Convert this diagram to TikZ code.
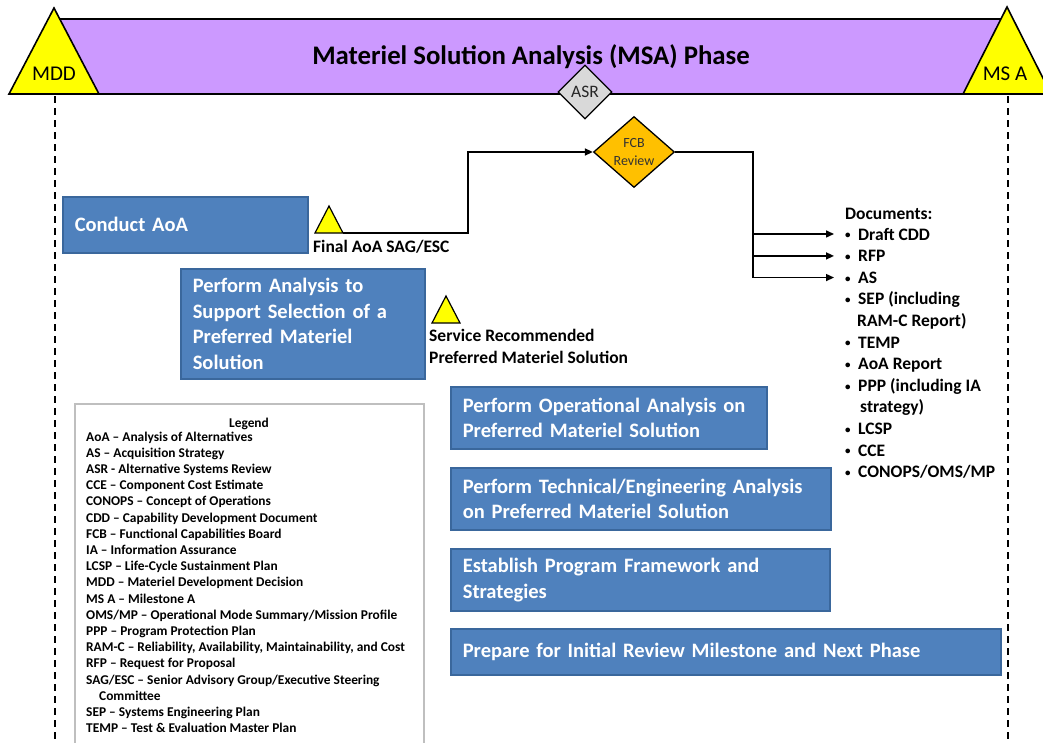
\documentclass[tikz,border=0pt]{standalone}
\usepackage{fontspec}
\setmainfont{Carlito}
\usetikzlibrary{shapes.geometric,arrows.meta}
\definecolor{banner}{HTML}{CC99FF}
\definecolor{msy}{HTML}{FFFF00}
\definecolor{boxblue}{HTML}{4F81BD}
\definecolor{boxedge}{HTML}{3A679C}
\definecolor{asrgray}{HTML}{D9D9D9}
\definecolor{fcbfill}{HTML}{FFC000}
\definecolor{legendedge}{HTML}{BFBFBF}
\newcommand{\docbullet}{\makebox[13pt][l]{\raisebox{1.2pt}{\fontsize{11}{11}\selectfont\textbullet}}}
\begin{document}
\begin{tikzpicture}[x=1pt,y=-1pt,
  thick line/.style={line width=1.6pt},
  conn/.style={line width=1.5pt,-{Triangle[length=8pt,width=7pt]}},
  phaseline/.style={line width=1.6pt,dash pattern=on 7pt off 5pt},
  milestone/.style={draw,fill=msy,line width=1.6pt,line join=miter},
  smallms/.style={draw,fill=msy,line width=1.2pt,line join=miter},
  task/.style={draw=boxedge,line width=1.6pt,fill=boxblue,anchor=north west,
    inner xsep=12pt,inner ysep=0pt,align=left,text=white,
    font=\fontsize{20.5}{25.5}\selectfont\bfseries},
  label/.style={anchor=base west,inner sep=0pt,font=\fontsize{17.5}{21.6}\selectfont\bfseries},
  doc/.style={anchor=base west,inner sep=0pt,font=\fontsize{17.5}{21.6}\selectfont\bfseries},
  legendtext/.style={anchor=base west,inner sep=0pt,font=\fontsize{13.4}{16}\selectfont\bfseries}
]
\useasboundingbox (0,0) rectangle (1043,742);

% banner
\draw[thick line,fill=banner] (54,19) rectangle (1007,94);
\node[font=\fontsize{26.8}{30}\selectfont\bfseries] (title) at (531,57) {Materiel Solution Analysis (MSA) Phase};

% milestones
\draw[milestone] (9,94) -- (54,8) -- (99,94) -- cycle;
\node[font=\fontsize{21}{22}\selectfont] (mdd) at (54,74) {MDD};
\draw[milestone] (963,94) -- (1007,7) -- (1051,94) -- cycle;
\node[font=\fontsize{21}{22}\selectfont] (msa) at (1005,74) {MS A};

\coordinate (mddtop) at (55,96);
\coordinate (mddbot) at (55,742);
\coordinate (msatop) at (1008,96);
\coordinate (msabot) at (1008,742);
\draw[phaseline] (mddtop) -- (mddbot);
\draw[phaseline] (msatop) -- (msabot);

% ASR and FCB
\node[diamond,draw,fill=asrgray,line width=1.3pt,minimum width=54pt,minimum height=54pt,
  inner sep=0pt,font=\fontsize{17.5}{20}\selectfont,text=black!85] (asr) at (585,92) {ASR};
\node[diamond,draw,fill=fcbfill,line width=1.3pt,minimum width=81pt,minimum height=71pt,
  inner sep=0pt,align=center,font=\fontsize{14}{18.5}\selectfont,text=black!80] (fcb) at (634,152) {FCB\\Review};

% tasks
\node[task,minimum width=245pt,minimum height=56pt,text width=221pt] (aoa) at (62,196) {Conduct AoA};
\node[task,minimum width=244pt,minimum height=110pt,text width=220pt] (pa) at (180,268)
  {Perform Analysis to\\Support Selection of a\\Preferred Materiel\\Solution};
\node[task,minimum width=316pt,minimum height=62pt,text width=292pt] (op) at (450,386)
  {Perform Operational Analysis on\\Preferred Materiel Solution};
\node[task,minimum width=380pt,minimum height=62pt,text width=356pt] (te) at (450,467)
  {Perform Technical/Engineering Analysis\\on Preferred Materiel Solution};
\node[task,minimum width=379pt,minimum height=62pt,text width=355pt] (es) at (450,548)
  {Establish Program Framework and\\Strategies};
\node[task,minimum width=550pt,minimum height=46pt,text width=526pt] (pr) at (450,628)
  {Prepare for Initial Review Milestone and Next Phase};

% small milestones
\draw[smallms] (315,233) -- (329,206) -- (343,233) -- cycle;
\coordinate (aoams) at (343,233);
\node[label] (aoalabel) at (313,252.7) {Final AoA SAG/ESC};
\draw[smallms] (432,323) -- (446,296) -- (460,323) -- cycle;
\node[label] (srlabel1) at (429,341.7) {Service Recommended};
\node[label] (srlabel2) at (429,363.3) {Preferred Materiel Solution};

% documents
\node[doc] (dochead) at (845,219) {Documents:};
\node[doc] (doc1) at (845,240) {\docbullet Draft CDD};
\node[doc] (doc2) at (845,261.6) {\docbullet RFP};
\node[doc] (doc3) at (845,283.2) {\docbullet AS};
\node[doc] (doc4) at (845,304.8) {\docbullet SEP (including};
\node[doc] (doc4b) at (857,326.4) {RAM-C Report)};
\node[doc] (doc5) at (845,348) {\docbullet TEMP};
\node[doc] (doc6) at (845,369.6) {\docbullet AoA Report};
\node[doc] (doc7) at (845,391.2) {\docbullet PPP (including IA};
\node[doc] (doc7b) at (860,412.8) {strategy)};
\node[doc] (doc8) at (845,434.4) {\docbullet LCSP};
\node[doc] (doc9) at (845,456) {\docbullet CCE};
\node[doc] (doc10) at (845,477.6) {\docbullet CONOPS/OMS/MP};

% connectors
\draw[conn] (aoams) -- (468,233) |- (fcb.west);
\coordinate (split) at (753,152);
\draw[thick line] (fcb.east) -- (split) -- (split |- doc3.west);
\foreach \d in {doc1,doc2,doc3}
  \draw[conn,shorten >=11pt] (split |- \d.west) -- (\d.west);

% legend
\draw[draw=legendedge,line width=1.5pt] (75,404) rectangle (424,760);
\node[anchor=base,inner sep=0pt,font=\fontsize{13.4}{16}\selectfont\bfseries] (legtitle) at (249,427) {Legend};
\foreach [count=\i] \t in {
  {AoA -- Analysis of Alternatives},
  {AS -- Acquisition Strategy},
  {ASR - Alternative Systems Review},
  {CCE -- Component Cost Estimate},
  {CONOPS -- Concept of Operations},
  {CDD -- Capability Development Document},
  {FCB -- Functional Capabilities Board},
  {IA -- Information Assurance},
  {LCSP -- Life-Cycle Sustainment Plan},
  {MDD -- Materiel Development Decision},
  {MS A -- Milestone A},
  {OMS/MP -- Operational Mode Summary/Mission Profile},
  {PPP -- Program Protection Plan},
  {RAM-C -- Reliability, Availability, Maintainability, and Cost},
  {RFP -- Request for Proposal},
  {SAG/ESC -- Senior Advisory Group/Executive Steering},
  {\hspace{13pt}Committee},
  {SEP -- Systems Engineering Plan},
  {TEMP -- Test \& Evaluation Master Plan}}
  \node[legendtext] (leg\i) at (86,{441+16.2*(\i-1)}) {\t};
\end{tikzpicture}
\end{document}
